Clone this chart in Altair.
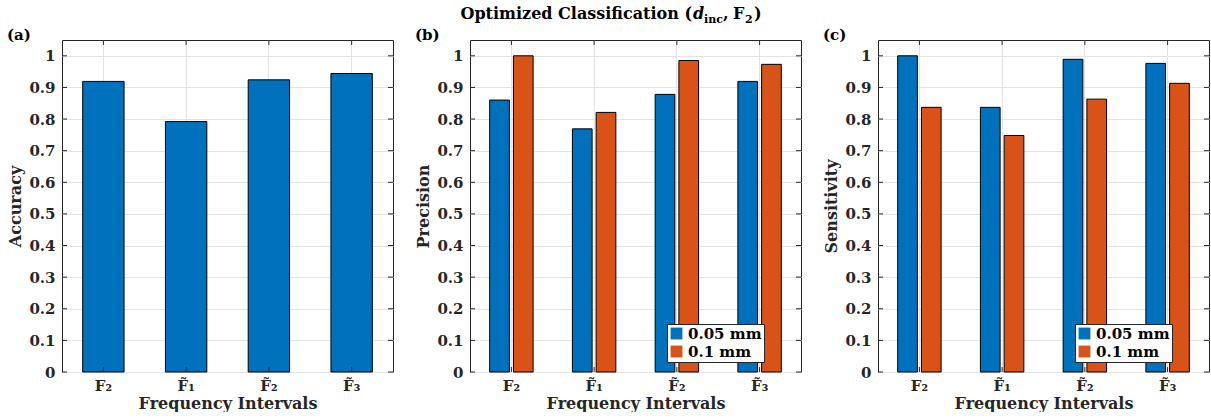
import altair as alt
import pandas as pd

# ---------------- data ----------------
categories = ["F\u2082", "F\u0303\u2081", "F\u0303\u2082", "F\u0303\u2083"]
series = ["0.05 mm", "0.1 mm"]
accuracy = [0.919, 0.792, 0.924, 0.944]
precision_005 = [0.860, 0.769, 0.878, 0.919]
precision_01 = [1.000, 0.821, 0.985, 0.973]
sensitivity_005 = [1.000, 0.837, 0.989, 0.976]
sensitivity_01 = [0.837, 0.748, 0.863, 0.913]
y_ticks = [0, 0.1, 0.2, 0.3, 0.4, 0.5, 0.6, 0.7, 0.8, 0.9, 1]
panel_labels = ["(a)", "(b)", "(c)"]
y_titles = ["Accuracy", "Precision", "Sensitivity"]
x_title = "Frequency Intervals"
title_parts = ["Optimized Classification (", "d", "inc", ",", "F", "2", ")"]

BLUE = "#0072BD"
ORANGE = "#D95319"
FONT = "DejaVu Serif"
W, H = 331, 332

acc_df = pd.DataFrame({"cat": categories, "value": accuracy})


def grouped_df(a, b):
    rows = []
    for c, v1, v2 in zip(categories, a, b):
        rows.append({"cat": c, "series": series[0], "value": v1})
        rows.append({"cat": c, "series": series[1], "value": v2})
    return pd.DataFrame(rows)


prec_df = grouped_df(precision_005, precision_01)
sens_df = grouped_df(sensitivity_005, sensitivity_01)
tick_df = pd.DataFrame({"value": y_ticks})
cat_df = pd.DataFrame({"cat": categories})


def x_enc(pi, po):
    return alt.X(
        "cat:N",
        sort=categories,
        scale=alt.Scale(paddingInner=pi, paddingOuter=po),
        axis=alt.Axis(
            title=x_title, labelAngle=0, grid=True, bandPosition=0.5,
            ticks=False, domain=False, labelPadding=6, titlePadding=2,
            labelFontSize=15,
        ),
    )


def y_enc(title):
    return alt.Y(
        "value:Q",
        scale=alt.Scale(domain=[0, 1.05], nice=False, zero=True),
        axis=alt.Axis(
            title=title, values=y_ticks, format="~g", grid=True, ticks=False,
            domain=False, labelPadding=7, titlePadding=5,
        ),
    )


def ticks_layers(pi, po, ytitle):
    yt = alt.Chart(tick_df).encode(y=y_enc(ytitle))
    left = yt.mark_rule(color="#262626", strokeWidth=1).encode(
        x=alt.value(0), x2=alt.value(5))
    right = yt.mark_rule(color="#262626", strokeWidth=1).encode(
        x=alt.value(W - 5), x2=alt.value(W))
    xt = alt.Chart(cat_df).encode(x=x_enc(pi, po))
    bottom = xt.mark_rule(color="#262626", strokeWidth=1).encode(
        y=alt.value(H), y2=alt.value(H - 5))
    top = xt.mark_rule(color="#262626", strokeWidth=1).encode(
        y=alt.value(0), y2=alt.value(5))
    return [left, right, bottom, top]


def label_layer(txt):
    return alt.Chart(pd.DataFrame({"t": [txt]})).mark_text(
        align="left", baseline="alphabetic", font=FONT, fontWeight="bold",
        fontSize=15, color="black"
    ).encode(text="t:N", x=alt.value(-55), y=alt.value(0))


# panel (a)
pa_i, pa_o = 0.5, 0.25
bars_a = alt.Chart(acc_df).mark_bar(
    color=BLUE, stroke="black", strokeWidth=1
).encode(x=x_enc(pa_i, pa_o), y=y_enc(y_titles[0]))
panel_a = alt.layer(
    bars_a, *ticks_layers(pa_i, pa_o, y_titles[0]),
    label_layer(panel_labels[0])
).properties(width=W, height=H)

# grouped panels
pg_i, pg_o = 0.475, 0.238


def grouped_panel(df, ytitle, lbl, extra=None):
    bars = alt.Chart(df).mark_bar(stroke="black", strokeWidth=1).encode(
        x=x_enc(pg_i, pg_o),
        y=y_enc(ytitle),
        xOffset=alt.XOffset("series:N", sort=series,
                            scale=alt.Scale(paddingInner=0.17, paddingOuter=0)),
        color=alt.Color(
            "series:N", sort=series,
            scale=alt.Scale(domain=series, range=[BLUE, ORANGE]),
            legend=alt.Legend(
                title=None, orient="none", legendX=197, legendY=284,
                strokeColor="#262626", fillColor="white", padding=2,
                symbolType="square", symbolSize=140, symbolStrokeWidth=0,
                labelFont=FONT, labelFontSize=15, labelFontWeight="bold",
                labelColor="black", rowPadding=2, labelOffset=4,
            ),
        ),
    )
    layers = [bars, *ticks_layers(pg_i, pg_o, ytitle), label_layer(lbl)]
    if extra:
        layers += extra
    return alt.layer(*layers).properties(width=W, height=H)


def title_piece(txt, x, y, size=16, style="normal"):
    return alt.Chart(pd.DataFrame({"t": [txt]})).mark_text(
        align="left", baseline="alphabetic", font=FONT, fontWeight="bold",
        fontSize=size, fontStyle=style, color="black"
    ).encode(text="t:N", x=alt.value(x), y=alt.value(y))


TY = -21
first = alt.Chart(pd.DataFrame({"t": [title_parts[0]]})).mark_text(
    align="right", baseline="alphabetic", font=FONT, fontWeight="bold",
    fontSize=16, color="black"
).encode(text="t:N", x=alt.value(222), y=alt.value(TY))
title_layers = [
    first,
    title_piece(title_parts[1], 223, TY, 16, "italic"),
    title_piece(title_parts[2], 234, TY + 4, 11),
    title_piece(title_parts[3], 253, TY),
    title_piece(title_parts[4], 263, TY),
    title_piece(title_parts[5], 275, TY + 4, 11),
    title_piece(title_parts[6], 284, TY),
]

panel_b = grouped_panel(prec_df, y_titles[1], panel_labels[1], title_layers)
panel_c = grouped_panel(sens_df, y_titles[2], panel_labels[2])

chart = alt.hconcat(panel_a, panel_b, panel_c, spacing=20).resolve_legend(
    color="independent"
).resolve_scale(color="independent").properties(
    padding={"left": 6, "top": 5, "right": 0, "bottom": 0}
).configure(
    font=FONT, background="white"
).configure_view(
    stroke="#262626", strokeWidth=1
).configure_axis(
    labelFont=FONT, labelFontWeight="bold", labelFontSize=15, labelColor="#262626",
    titleFont=FONT, titleFontWeight="bold", titleFontSize=16, titleColor="#262626",
    gridColor="#e3e3e3", gridWidth=1,
)

chart.save("out.html", embed_options={"renderer": "svg", "actions": False})
